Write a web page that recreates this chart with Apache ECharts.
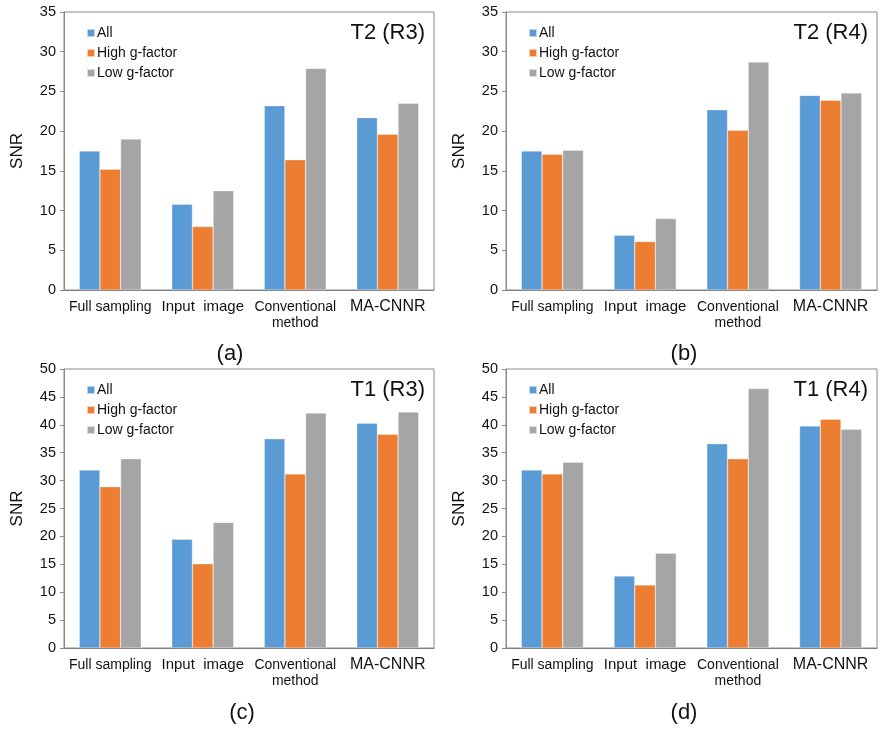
<!DOCTYPE html>
<html><head><meta charset="utf-8">
<script src="https://cdn.jsdelivr.net/npm/echarts@6/dist/echarts.min.js"></script>
<style>html,body{margin:0;padding:0;background:#fff}#c{width:886px;height:740px}</style>
</head><body><div id="c"></div>
<script>
const categories = ['Full sampling', 'Input  image', 'Conventional\nmethod', 'MA-CNNR'];
const seriesNames = ['All', 'High g-factor', 'Low g-factor'];
const panelTitles = ['T2 (R3)', 'T2 (R4)', 'T1 (R3)', 'T1 (R4)'];
const panelCaptions = ['(a)', '(b)', '(c)', '(d)'];
const yMax = [35, 35, 50, 50];
// panel (a) T2 R3
const a_all  = [17.5, 10.8, 23.2, 21.7];
const a_high = [15.2, 8.0, 16.4, 19.6];
const a_low  = [19.0, 12.5, 27.9, 23.5];
// panel (b) T2 R4
const b_all  = [17.5, 6.9, 22.7, 24.5];
const b_high = [17.1, 6.1, 20.1, 23.9];
const b_low  = [17.6, 9.0, 28.7, 24.8];
// panel (c) T1 R3
const c_all  = [31.9, 19.5, 37.5, 40.3];
const c_high = [28.9, 15.1, 31.2, 38.3];
const c_low  = [33.9, 22.5, 42.1, 42.3];
// panel (d) T1 R4
const d_all  = [31.9, 12.9, 36.6, 39.8];
const d_high = [31.2, 11.3, 33.9, 41.0];
const d_low  = [33.3, 17.0, 46.5, 39.2];

const panelData = [[a_all, a_high, a_low], [b_all, b_high, b_low], [c_all, c_high, c_low], [d_all, d_high, d_low]];
const colors = ['#5B9BD5', '#ED7D31', '#A5A5A5'];
const FONT = 'Liberation Sans, Arial, sans-serif';

const grids = [
  {left: 64, width: 370, top: 12, height: 278},
  {left: 506, width: 371, top: 12, height: 278},
  {left: 64, width: 370, top: 369, height: 279},
  {left: 506, width: 371, top: 369, height: 279}
];

const option = {
  animation: false,
  color: colors,
  textStyle: {fontFamily: FONT},
  grid: grids.map(g => Object.assign({show: true, borderColor: '#8a8a8a', borderWidth: 1, backgroundColor: 'transparent'}, g)),
  xAxis: grids.map((g, i) => ({
    type: 'category', gridIndex: i,
    data: categories.map((c, k) => k === 3 ? {value: c, textStyle: {fontSize: 16}} : (k === 1 ? {value: c, textStyle: {fontSize: 15}} : c)),
    axisTick: {show: false},
    axisLine: {lineStyle: {color: '#7f7f7f'}},
    axisLabel: {color: '#111', fontSize: 14, fontFamily: FONT, interval: 0, margin: 9, lineHeight: 16}
  })),
  yAxis: grids.map((g, i) => ({
    type: 'value', gridIndex: i, min: 0, max: yMax[i], interval: 5,
    name: 'SNR', nameLocation: 'middle', nameGap: 38,
    nameTextStyle: {fontSize: 17, color: '#111', fontFamily: FONT},
    axisLine: {show: true, lineStyle: {color: '#8a8a8a'}},
    axisTick: {show: true, length: 4, lineStyle: {color: '#8a8a8a'}},
    splitLine: {show: false},
    axisLabel: {color: '#111', fontSize: 14.5, fontFamily: FONT, margin: 8}
  })),
  legend: grids.map((g, i) => ({
    orient: 'vertical', left: g.left + 17, top: g.top + 9,
    itemWidth: 8, itemHeight: 8, itemGap: 6,
    icon: 'rect',
    textStyle: {fontSize: 14, color: '#111', fontFamily: FONT, padding: [0, 0, 0, -3]},
    data: seriesNames.map((n, k) => ({name: n + (i ? '\u200b'.repeat(i) : '')}))
  })),
  title: grids.map((g, i) => ({
    text: panelTitles[i], right: 886 - (g.left + g.width) + 4, top: g.top + 5,
    textStyle: {fontSize: 22, fontWeight: 'normal', color: '#111', fontFamily: FONT}
  })).concat([
    {text: '(a)', left: 225, top: 338, textAlign: 'center'},
    {text: '(b)', left: 679, top: 338, textAlign: 'center'},
    {text: '(c)', left: 237, top: 697, textAlign: 'center'},
    {text: '(d)', left: 679, top: 697, textAlign: 'center'}
  ].map(t => Object.assign(t, {textStyle: {fontSize: 22, fontWeight: 'normal', color: '#111', fontFamily: FONT}}))),
  series: []
};

panelData.forEach((pd, i) => {
  pd.forEach((vals, k) => {
    option.series.push({
      type: 'bar', name: seriesNames[k] + (i ? '\u200b'.repeat(i) : ''),
      xAxisIndex: i, yAxisIndex: i,
      data: vals, barGap: '0%', barCategoryGap: '33%',
      itemStyle: {color: colors[k], borderColor: 'rgba(255,255,255,0.6)', borderWidth: 0.5}
    });
  });
});

const chart = echarts.init(document.getElementById('c'), null, {renderer: 'canvas'});
chart.setOption(option);
</script></body></html>
